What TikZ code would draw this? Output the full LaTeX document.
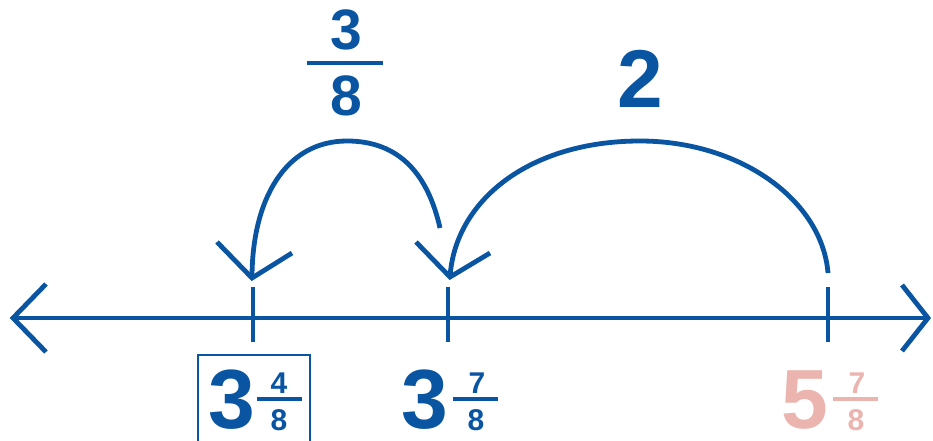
\documentclass[tikz,border=0pt]{standalone}
\usepackage{fontspec}
\setmainfont{Liberation Sans}
\definecolor{nlblue}{RGB}{10,85,162}
\definecolor{nlpink}{RGB}{235,180,174}
\begin{document}
\begin{tikzpicture}[x=1pt,y=-1pt,
  line width=4.8pt, draw=nlblue,
  numtxt/.style={inner sep=0pt, anchor=base, text=nlblue,
    font=\fontsize{#1}{#1}\selectfont\bfseries},
  pinktxt/.style={text=nlpink},
  chev/.style={line join=miter, miter limit=10},
  barline/.style={line width=#1}]
\useasboundingbox (0,0) rectangle (933,441);
\clip (0,0) rectangle (933,441);
% number line
\coordinate (L) at (13,318);
\coordinate (R) at (928,318);
\draw (L) -- (R);
\draw[chev] (46,284) -- (L) -- (46,352);
\draw[chev] (902,285) -- (R) -- (902,351);
% ticks
\draw (253,287) -- (253,342);
\draw (448,287) -- (448,342);
\draw (828,287) -- (828,342);
% arc 3/8
\coordinate (a1s) at (440,228);
\coordinate (a1e) at (252,278);
\draw (a1s) .. controls (428,175) and (400,141) .. (347,141)
            .. controls (285,141) and (252,200) .. (a1e);
\draw[chev] (217,242) -- (a1e) -- (292,253);
% arc 2
\coordinate (a2s) at (828,273);
\coordinate (a2e) at (450,277);
\draw (a2s) .. controls (822,200) and (740,141) .. (640,141)
            .. controls (530,141) and (455,200) .. (a2e);
\draw[chev] (416,242) -- (a2e) -- (490,253);
% label 3/8
\node[numtxt=57] (n38) at (346,50) {3};
\draw[barline=4.5pt] (307,63) -- (383,63);
\node[numtxt=57] (d38) at (346,115) {8};
% label 2
\node[numtxt=82] (two) at (640,107) {2};
% 3 4/8 boxed
\node[numtxt=84] (w1) at (232,428) {3};
\node[numtxt=30] (n1) at (279,393) {4};
\draw[barline=3.5pt] (257,399) -- (302,399);
\node[numtxt=30] (d1) at (279,430) {8};
\draw[line width=2.5pt] (198,355) rectangle (310,460);
% 3 7/8
\node[numtxt=84] (w2) at (425,428) {3};
\node[numtxt=30] (n2) at (477,393) {7};
\draw[barline=3.5pt] (453,399) -- (498,399);
\node[numtxt=30] (d2) at (476,430) {8};
% 5 7/8 pink
\node[numtxt=84, pinktxt] (w3) at (805,428) {5};
\node[numtxt=30, pinktxt] (n3) at (857,393) {7};
\draw[barline=3.5pt, draw=nlpink] (833,399) -- (878,399);
\node[numtxt=30, pinktxt] (d3) at (856,430) {8};
\end{tikzpicture}
\end{document}
